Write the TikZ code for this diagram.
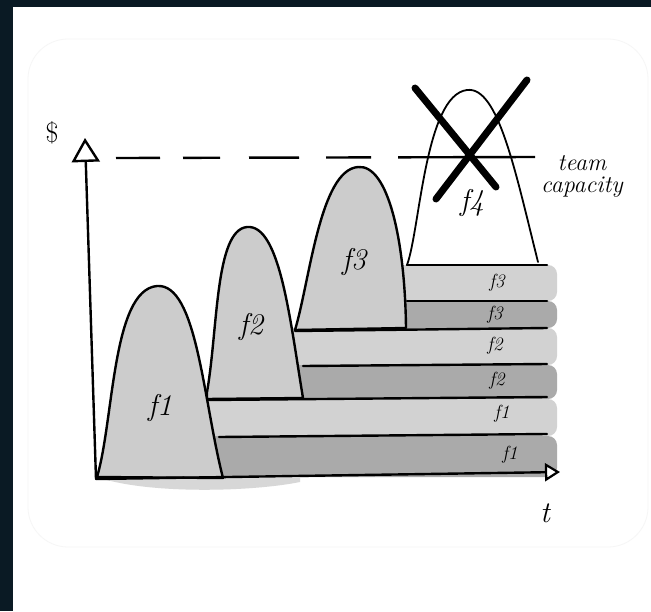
\documentclass[tikz,border=0pt]{standalone}
\usepackage{tikz}
\usetikzlibrary{arrows.meta}
\definecolor{framecolor}{RGB}{10,26,36}
\definecolor{panelline}{RGB}{246,246,246}
\definecolor{bumpgray}{RGB}{204,204,204}
\definecolor{bandlight}{RGB}{210,210,210}
\definecolor{banddark}{RGB}{170,170,170}
\definecolor{smudge}{RGB}{215,215,215}

\begin{document}
\begin{tikzpicture}[x=1pt,y=-1pt,
  ink/.style={line width=2.4pt, line cap=round, line join=round},
  bump/.style={ink, fill=bumpgray},
  hand/.style={font=\fontsize{30}{30}\selectfont\itshape},
  bandlabel/.style={font=\fontsize{19}{19}\selectfont\itshape},
  note/.style={font=\fontsize{24}{22}\selectfont\itshape, align=center}]

% ---- Frame and panel ----
\fill[framecolor] (0,0) rectangle (651,611);
\fill[white] (13,7) rectangle (651,611);
\draw[panelline, line width=0.8pt, rounded corners=40pt] (28,39) rectangle (648,547);
\useasboundingbox (0,0) rectangle (651,611);

% ---- Smudge under the time axis ----
\fill[smudge] (100,478) .. controls (150,494) and (250,492) .. (300,482) -- (300,478) -- cycle;

% ---- Stacked bands (fill only) ----
\foreach \yt/\yb/\xl/\col in {265/301/400/bandlight,301/328/400/banddark,
    328/365/290/bandlight,365/399/295/banddark,
    399/436/205/bandlight,436/477/215/banddark} {
  \fill[\col] (\xl,\yt) -- (540,\yt) [rounded corners=9pt] -- (557,\yt)
    -- (557,\yb) -- (540,\yb) [sharp corners] -- (\xl,\yb) -- cycle;
}

% ---- Feature f4 (over capacity) ----
\draw[ink, line width=1.8pt] (407,265) .. controls (420,230) and (425,95) .. (467,90)
  .. controls (498,86) and (515,170) .. (538,262);

% ---- Feature bumps ----
\draw[bump] (295,330) .. controls (310,280) and (320,170) .. (358,167)
  .. controls (388,164) and (405,240) .. (406,328) -- cycle;
\draw[bump] (207,392) .. controls (218,330) and (215,230) .. (247,227)
  .. controls (280,224) and (290,320) .. (303,398) -- (207,399) -- cycle;
\draw[bump] (97,477) .. controls (114,420) and (112,290) .. (157,286)
  .. controls (197,283) and (203,400) .. (223,478) -- cycle;

% ---- Band borders ----
\foreach \xa/\ya/\yb in {407/265/265,407/301/301,295/331/328,
    303/366/364,208/400/397,219/437/434} {
  \draw[ink] (\xa,\ya) -- (547,\yb);
}

% ---- Axes ----
\coordinate (origin) at (96,479);
\coordinate (ytop) at (85,138);
\coordinate (xend) at (560,472);
\draw[ink, -{Triangle[open,length=24pt,width=28pt,line width=2.4pt]}] (origin) -- (ytop);
\draw[ink, -{Triangle[open,fill=white,length=15pt,width=18pt,line width=2.2pt]}] (origin) -- (xend);

% ---- Team capacity line ----
\coordinate (capstart) at (116,158);
\coordinate (capend) at (535,157);
\draw[ink, line cap=butt,
  dash pattern=on 44pt off 23pt on 37pt off 29pt on 50pt off 27pt on 45pt off 27pt on 137pt off 20pt]
  (capstart) -- (capend);

% ---- Cross over f4 ----
\draw[line width=7pt, line cap=round] (415,88) -- (496,187);
\draw[line width=7pt, line cap=round] (527,80) -- (436,199);

% ---- Labels ----
\node[hand, font=\fontsize{28}{28}\selectfont] (dollar) at (52,133) {\$};
\node[hand] (tlabel) at (545,513) {t};
\node[note] (capacity) at (582,176) {team\\capacity};
\node[hand] (f1label) at (160,408) {f1};
\node[hand] (f2label) at (251,327) {f2};
\node[hand] (f3label) at (354,262) {f3};
\node[hand] (f4label) at (472,203) {f4};
\foreach \lx/\ly/\txt in {497/283/f3,495/315/f3,495/346/f2,
    497/381/f2,502/414/f1,510/455/f1} {
  \node[bandlabel] at (\lx,\ly) {\txt};
}

\end{tikzpicture}
\end{document}
